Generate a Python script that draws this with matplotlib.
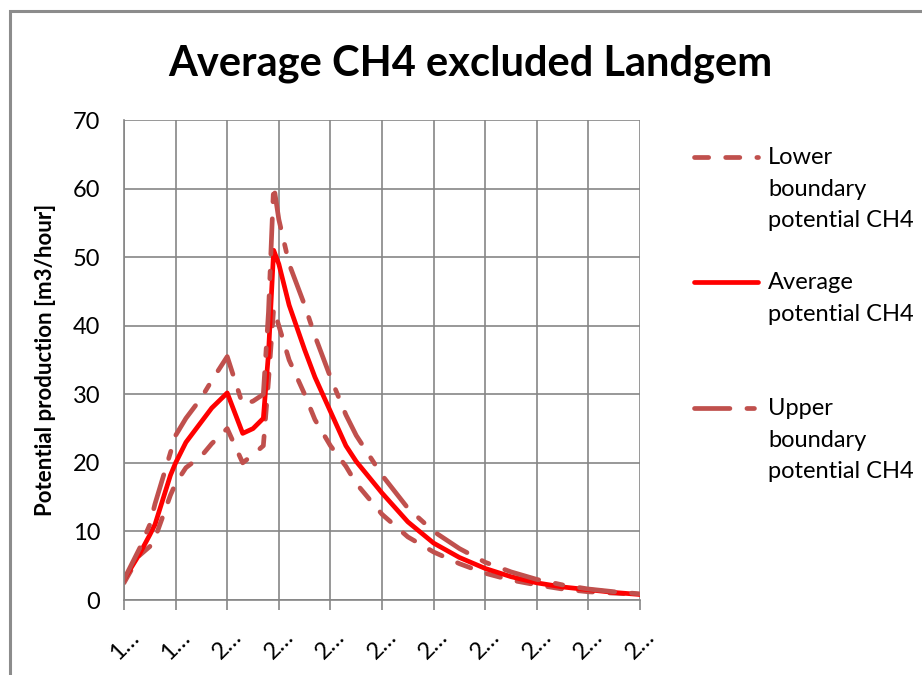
import matplotlib
matplotlib.use("Agg")
import matplotlib.pyplot as plt
from matplotlib.lines import Line2D
from matplotlib.patches import Rectangle
from matplotlib.transforms import ScaledTranslation

plt.rcParams['font.family'] = ['Lato', 'DejaVu Sans']

# Jahre (Kategorien) und Werte der drei Kurven
years = [1980, 1983, 1985, 1986, 1989, 1990, 1992, 1995, 1997, 2000,
         2003, 2005, 2007, 2008, 2009, 2010, 2012, 2015, 2017, 2020,
         2023, 2025, 2030, 2035, 2040, 2045, 2050, 2055, 2060, 2065,
         2070, 2075, 2080]

lower = [2.5, 6.5, 7.8, 9.0, 15.3, 17.0, 19.3, 21.0, 22.8, 25.0,
         20.0, 21.2, 22.5, 32.0, 42.5, 40.0, 35.0, 30.0, 26.3, 22.5,
         19.5, 17.0, 12.5, 9.2, 7.0, 5.3, 3.9, 2.9, 2.2, 1.6,
         1.2, 1.0, 0.8]

average = [3.0, 6.7, 9.5, 11.0, 18.2, 20.0, 23.0, 26.0, 28.0, 30.2,
           24.3, 25.0, 26.5, 36.0, 51.0, 49.0, 43.0, 36.5, 32.5, 27.5,
           22.5, 20.2, 15.6, 11.4, 8.3, 6.2, 4.6, 3.4, 2.5, 1.9,
           1.5, 1.1, 0.8]

upper = [3.0, 7.5, 11.0, 14.0, 21.5, 24.0, 26.5, 29.5, 32.0, 35.5,
         28.5, 29.0, 30.0, 42.0, 60.5, 55.5, 49.0, 43.0, 38.5, 32.5,
         27.0, 24.0, 18.2, 13.4, 10.0, 7.5, 5.5, 4.1, 3.0, 2.2,
         1.6, 1.2, 0.9]

tick_years = list(range(1980, 2081, 10))
tick_labels = ["1…", "1…"] + ["2…"] * 9

legend_labels = ["Lower\nboundary\npotential CH4",
                 "Average\npotential CH4",
                 "Upper\nboundary\npotential CH4"]

dash_color = "#C0504D"
lw = 3.4
lower_dashes = (3.0, 3.6)
upper_dashes = (7.5, 3.6, 1.6, 3.6)

fig = plt.figure(figsize=(9.22, 6.75), dpi=100)
ax = fig.add_axes([0.1345, 0.1111, 0.5597, 0.7111])

ax.plot(years, lower, color=dash_color, lw=lw, dashes=lower_dashes,
        dash_capstyle="round")
ax.plot(years, average, color="#FF0000", lw=lw, solid_capstyle="round")
ax.plot(years, upper, color=dash_color, lw=lw, dashes=upper_dashes,
        dash_capstyle="round")

ax.set_xlim(1980, 2080)
ax.set_ylim(0, 70)
ax.set_xticks(tick_years)
ax.set_xticklabels(tick_labels, rotation=45, ha="center", va="top", fontsize=17)
off = ScaledTranslation(5 / 100, 0, fig.dpi_scale_trans)
for lab in ax.get_xticklabels():
    lab.set_transform(lab.get_transform() + off)
ax.set_yticks(range(0, 71, 10))
ax.tick_params(axis="y", length=0, pad=17, labelsize=17)
ax.tick_params(axis="x", length=7, width=1.2, color="#868686", pad=12)
ax.grid(True, color="#868686", lw=1.2)
ax.set_axisbelow(True)
for side in ["left", "bottom"]:
    ax.spines[side].set_color("#868686")
    ax.spines[side].set_linewidth(1.2)
for side in ["top", "right"]:
    ax.spines[side].set_visible(False)

ax.set_ylabel("Potential production [m3/hour]", fontsize=16, fontweight="bold",
              labelpad=12)

fig.text(0.51, 0.905, "Average CH4 excluded Landgem", ha="center", va="center",
         fontsize=30, fontweight="bold")

# Legende von Hand (Linie auf Höhe der ersten Textzeile)
styles = [dict(color=dash_color, dashes=lower_dashes),
          dict(color="#FF0000"),
          dict(color=dash_color, dashes=upper_dashes)]
first_line_y = [157, 282, 408]
for label, st, py in zip(legend_labels, styles, first_line_y):
    yf = 1 - py / 675
    fig.add_artist(Line2D([694 / 922, 758 / 922], [yf, yf], lw=lw,
                          transform=fig.transFigure, dash_capstyle="round",
                          solid_capstyle="round", **st))
    fig.text(768 / 922, yf + 10 / 675, label, ha="left", va="top",
             fontsize=17, linespacing=1.62)

# Rahmen
fig.add_artist(Rectangle((9.5 / 922, -0.1), 1.2, 1.1 - 11 / 675,
                         transform=fig.transFigure, fill=False,
                         edgecolor="#8C8C8C", lw=2.2))

fig.savefig("out.png", dpi=100)
